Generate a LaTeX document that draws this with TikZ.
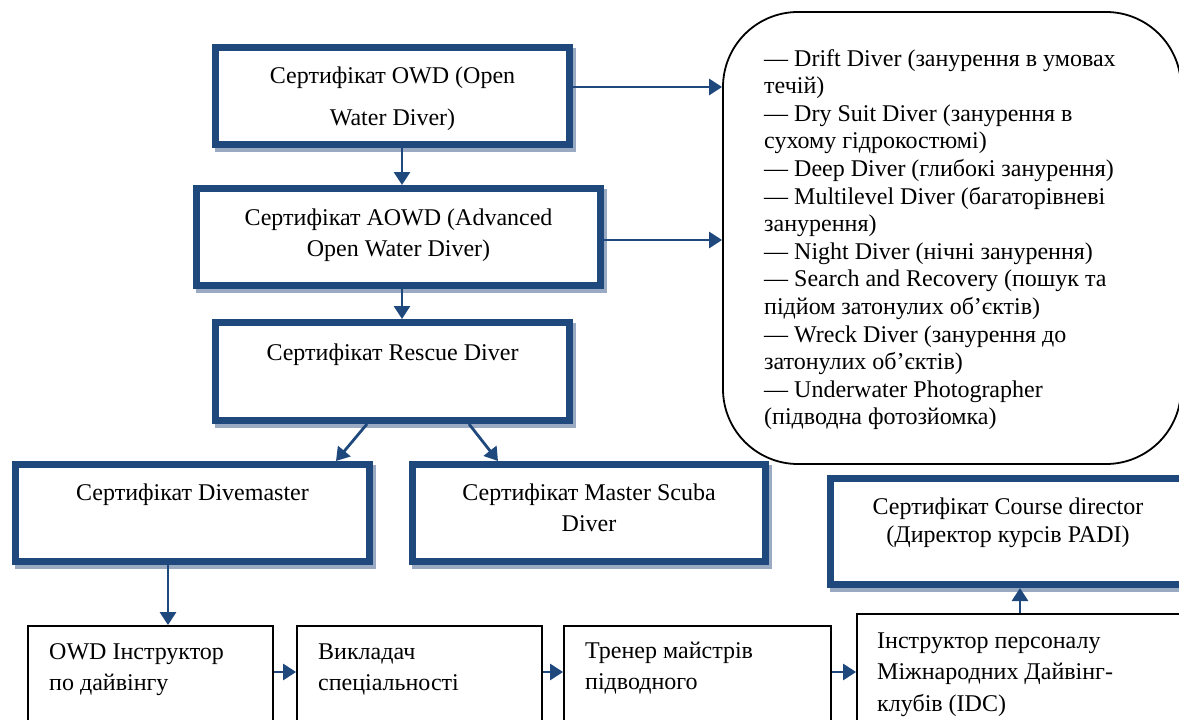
\documentclass[tikz,border=0pt]{standalone}
\usepackage{fontspec}
\setmainfont{Liberation Serif}
\usetikzlibrary{arrows.meta,shadows}
\definecolor{dblue}{RGB}{31,73,125}
\definecolor{shcol}{RGB}{155,170,195}
\tikzset{
  thickbox/.style={rectangle, draw=dblue, line width=7pt, fill=white,
    general shadow={shadow xshift=3pt, shadow yshift=-4pt, draw=shcol, line width=7pt, fill=none}},
  thinbox/.style={rectangle, draw=black, line width=1.8pt, fill=white},
  roundbox/.style={rectangle, draw=black, line width=1.8pt, rounded corners=75pt},
  arr/.style={draw=dblue, line width=2.8pt, -{Triangle[length=13pt,width=16pt]}},
  txt/.style={inner sep=0pt, align=center, anchor=base, font=\fontsize{24}{31}\selectfont},
  ltxt/.style={inner sep=0pt, align=left, anchor=base west, font=\fontsize{24}{31}\selectfont}
}
\begin{document}
\begin{tikzpicture}[x=1pt,y=-1pt]
\useasboundingbox (0,0) rectangle (1179,720);
\clip (0,0) rectangle (1179,720);
\fill[white] (0,0) rectangle (1179,720);

% boxes
\node[thickbox, minimum width=354pt, minimum height=97pt] (owd) at (392.5,96) {};
\node[thickbox, minimum width=404pt, minimum height=97pt] (aowd) at (398.5,237) {};
\node[thickbox, minimum width=354pt, minimum height=98pt] (rescue) at (392.5,371.5) {};
\node[thickbox, minimum width=354pt, minimum height=97pt] (dive) at (192.5,513) {};
\node[thickbox, minimum width=353pt, minimum height=97pt] (msd) at (589,513) {};
\node[thickbox, minimum width=355pt, minimum height=106pt] (cd) at (1008,531.5) {};
\node[roundbox, minimum width=458pt, minimum height=452pt] (rr) at (952,238) {};
\node[thinbox, minimum width=245pt, minimum height=134pt] (owdi) at (150.5,693) {};
\node[thinbox, minimum width=245pt, minimum height=134pt] (vyk) at (419.5,693) {};
\node[thinbox, minimum width=267pt, minimum height=134pt] (tren) at (697.5,693) {};
\node[thinbox, minimum width=343pt, minimum height=146pt] (idc) at (1028.5,687) {};

% texts (anchor = baseline of the last line)
\node[txt, font=\fontsize{24}{41.5}\selectfont] (owdt) at (392.5,125) {Сертифікат OWD (Open\\Water Diver)};
\node[txt, font=\fontsize{24}{31.5}\selectfont] (aowdt) at (398.5,256.5) {Сертифікат AOWD (Advanced\\Open Water Diver)};
\node[txt] (rescuet) at (392.5,360) {Сертифікат Rescue Diver};
\node[txt] (divet) at (192.5,500.5) {Сертифікат Divemaster};
\node[txt, font=\fontsize{24}{31.7}\selectfont] (msdt) at (589,531.7) {Сертифікат Master Scuba\\Diver};
\node[txt, font=\fontsize{24}{28.5}\selectfont] (cdt) at (1008,542.5) {Сертифікат Course director\\(Директор курсів PADI)};
\node[ltxt, font=\fontsize{24}{27.6}\selectfont] (rrt) at (764,424.8) {— Drift Diver (занурення в умовах\\течій)\\— Dry Suit Diver (занурення в\\сухому гідрокостюмі)\\— Deep Diver (глибокі занурення)\\— Multilevel Diver (багаторівневі\\занурення)\\— Night Diver (нічні занурення)\\— Search and Recovery (пошук та\\підйом затонулих об’єктів)\\— Wreck Diver (занурення до\\затонулих об’єктів)\\— Underwater Photographer\\(підводна фотозйомка)};
\node[ltxt] (owdit) at (49,690) {OWD Інструктор\\по дайвінгу};
\node[ltxt] (vykt) at (318,690) {Викладач\\спеціальності};
\node[ltxt] (trent) at (585,689) {Тренер майстрів\\підводного};
\node[ltxt, font=\fontsize{24}{31.5}\selectfont] (idct) at (877,711) {Інструктор персоналу\\Міжнародних Дайвінг-\\клубів (IDC)};

% connector helper coordinates
\coordinate (vx) at (402,0);
\coordinate (hy1) at (0,87);
\coordinate (hy2) at (0,240);
\coordinate (d1s) at (367,0);
\coordinate (d1e) at (336,0);
\coordinate (d2s) at (469,0);
\coordinate (d2e) at (498,0);
\coordinate (vx2) at (168,0);
\coordinate (hy3) at (0,672);
\coordinate (vx3) at (1020,0);

% connectors
\draw[arr] (owd.south -| vx) -- (aowd.north -| vx);
\draw[arr] (aowd.south -| vx) -- (rescue.north -| vx);
\draw[arr] (owd.east |- hy1) -- (rr.west |- hy1);
\draw[arr] (aowd.east |- hy2) -- (rr.west |- hy2);
\draw[arr] (rescue.south -| d1s) -- (dive.north -| d1e);
\draw[arr] (rescue.south -| d2s) -- (msd.north -| d2e);
\draw[arr] (dive.south -| vx2) -- (owdi.north -| vx2);
\draw[arr] (owdi.east |- hy3) -- (vyk.west |- hy3);
\draw[arr] (vyk.east |- hy3) -- (tren.west |- hy3);
\draw[arr] (tren.east |- hy3) -- (idc.west |- hy3);
\draw[arr] (idc.north -| vx3) -- (cd.south -| vx3);
\end{tikzpicture}
\end{document}
